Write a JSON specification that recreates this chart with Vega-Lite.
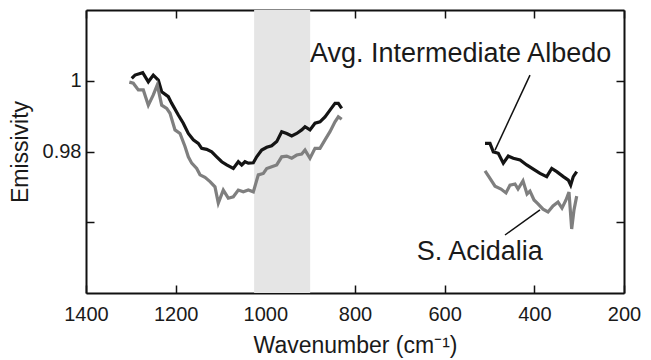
{
  "$schema": "https://vega.github.io/schema/vega-lite/v6.json",
  "width": 538,
  "height": 283,
  "autosize": {"type": "none"},
  "padding": {"left": 86, "top": 10, "right": 27, "bottom": 67},
  "background": "white",
  "config": {
    "view": {"stroke": null},
    "font": "Liberation Sans",
    "axis": {
      "grid": false,
      "domainColor": "#111111",
      "domainWidth": 2,
      "tickColor": "#111111",
      "tickWidth": 1.5,
      "tickSize": -8,
      "labelFont": "Liberation Sans",
      "labelFontSize": 20,
      "labelColor": "#1a1a1a",
      "titleFont": "Liberation Sans",
      "titleFontSize": 23,
      "titleFontWeight": "normal",
      "titleColor": "#1a1a1a"
    }
  },
  "datasets": {
    "spectra": [
      {"s": "avg", "seg": "a", "wn": 1298, "e": 1.0007},
      {"s": "avg", "seg": "a", "wn": 1290.7, "e": 1.0016},
      {"s": "avg", "seg": "a", "wn": 1273.5, "e": 1.0023},
      {"s": "avg", "seg": "a", "wn": 1261, "e": 0.9997},
      {"s": "avg", "seg": "a", "wn": 1249.9, "e": 1.0016},
      {"s": "avg", "seg": "a", "wn": 1238.7, "e": 1.0002},
      {"s": "avg", "seg": "a", "wn": 1231.2, "e": 0.9969},
      {"s": "avg", "seg": "a", "wn": 1216.4, "e": 0.9955},
      {"s": "avg", "seg": "a", "wn": 1208.8, "e": 0.9936},
      {"s": "avg", "seg": "a", "wn": 1194.1, "e": 0.9903},
      {"s": "avg", "seg": "a", "wn": 1183, "e": 0.988},
      {"s": "avg", "seg": "a", "wn": 1171.8, "e": 0.9851},
      {"s": "avg", "seg": "a", "wn": 1160.7, "e": 0.9833},
      {"s": "avg", "seg": "a", "wn": 1149.5, "e": 0.9823},
      {"s": "avg", "seg": "a", "wn": 1142, "e": 0.9809},
      {"s": "avg", "seg": "a", "wn": 1130.8, "e": 0.9806},
      {"s": "avg", "seg": "a", "wn": 1119.6, "e": 0.9799},
      {"s": "avg", "seg": "a", "wn": 1108.5, "e": 0.9785},
      {"s": "avg", "seg": "a", "wn": 1097.3, "e": 0.9771},
      {"s": "avg", "seg": "a", "wn": 1086.2, "e": 0.9762},
      {"s": "avg", "seg": "a", "wn": 1071.4, "e": 0.9752},
      {"s": "avg", "seg": "a", "wn": 1060.3, "e": 0.9771},
      {"s": "avg", "seg": "a", "wn": 1052.7, "e": 0.9762},
      {"s": "avg", "seg": "a", "wn": 1045.4, "e": 0.9771},
      {"s": "avg", "seg": "a", "wn": 1038, "e": 0.9767},
      {"s": "avg", "seg": "a", "wn": 1026.8, "e": 0.9768},
      {"s": "avg", "seg": "a", "wn": 1019.3, "e": 0.9785},
      {"s": "avg", "seg": "a", "wn": 1008.1, "e": 0.9804},
      {"s": "avg", "seg": "a", "wn": 996.9, "e": 0.9812},
      {"s": "avg", "seg": "a", "wn": 985.8, "e": 0.9816},
      {"s": "avg", "seg": "a", "wn": 974.6, "e": 0.9828},
      {"s": "avg", "seg": "a", "wn": 963.5, "e": 0.9856},
      {"s": "avg", "seg": "a", "wn": 952.3, "e": 0.9851},
      {"s": "avg", "seg": "a", "wn": 941.2, "e": 0.9844},
      {"s": "avg", "seg": "a", "wn": 930, "e": 0.9851},
      {"s": "avg", "seg": "a", "wn": 918.9, "e": 0.9861},
      {"s": "avg", "seg": "a", "wn": 911.5, "e": 0.987},
      {"s": "avg", "seg": "a", "wn": 900.4, "e": 0.9861},
      {"s": "avg", "seg": "a", "wn": 889.2, "e": 0.988},
      {"s": "avg", "seg": "a", "wn": 878.1, "e": 0.9884},
      {"s": "avg", "seg": "a", "wn": 866.9, "e": 0.9898},
      {"s": "avg", "seg": "a", "wn": 855.8, "e": 0.9917},
      {"s": "avg", "seg": "a", "wn": 844.6, "e": 0.9936},
      {"s": "avg", "seg": "a", "wn": 837.2, "e": 0.9936},
      {"s": "avg", "seg": "a", "wn": 829.7, "e": 0.9922},
      {"s": "avg", "seg": "b", "wn": 510, "e": 0.9823},
      {"s": "avg", "seg": "b", "wn": 498.9, "e": 0.9823},
      {"s": "avg", "seg": "b", "wn": 491.5, "e": 0.9799},
      {"s": "avg", "seg": "b", "wn": 480.4, "e": 0.9795},
      {"s": "avg", "seg": "b", "wn": 469.2, "e": 0.9767},
      {"s": "avg", "seg": "b", "wn": 458.1, "e": 0.9787},
      {"s": "avg", "seg": "b", "wn": 446.9, "e": 0.9781},
      {"s": "avg", "seg": "b", "wn": 431.8, "e": 0.9776},
      {"s": "avg", "seg": "b", "wn": 417, "e": 0.9762},
      {"s": "avg", "seg": "b", "wn": 402.3, "e": 0.975},
      {"s": "avg", "seg": "b", "wn": 387.4, "e": 0.9738},
      {"s": "avg", "seg": "b", "wn": 372.4, "e": 0.9729},
      {"s": "avg", "seg": "b", "wn": 361.2, "e": 0.9752},
      {"s": "avg", "seg": "b", "wn": 350.1, "e": 0.9743},
      {"s": "avg", "seg": "b", "wn": 335.4, "e": 0.9729},
      {"s": "avg", "seg": "b", "wn": 324.2, "e": 0.9719},
      {"s": "avg", "seg": "b", "wn": 318.9, "e": 0.9705},
      {"s": "avg", "seg": "b", "wn": 313.1, "e": 0.9729},
      {"s": "avg", "seg": "b", "wn": 305.5, "e": 0.9743},
      {"s": "aci", "seg": "c", "wn": 1303.4, "e": 0.9996},
      {"s": "aci", "seg": "c", "wn": 1294.5, "e": 0.9993},
      {"s": "aci", "seg": "c", "wn": 1283.3, "e": 0.9974},
      {"s": "aci", "seg": "c", "wn": 1272.2, "e": 0.9974},
      {"s": "aci", "seg": "c", "wn": 1261, "e": 0.9931},
      {"s": "aci", "seg": "c", "wn": 1249.9, "e": 0.996},
      {"s": "aci", "seg": "c", "wn": 1241, "e": 0.9988},
      {"s": "aci", "seg": "c", "wn": 1231.2, "e": 0.9931},
      {"s": "aci", "seg": "c", "wn": 1220, "e": 0.9922},
      {"s": "aci", "seg": "c", "wn": 1212.6, "e": 0.9908},
      {"s": "aci", "seg": "c", "wn": 1201.5, "e": 0.9861},
      {"s": "aci", "seg": "c", "wn": 1190.3, "e": 0.9851},
      {"s": "aci", "seg": "c", "wn": 1179.2, "e": 0.9814},
      {"s": "aci", "seg": "c", "wn": 1171.8, "e": 0.9785},
      {"s": "aci", "seg": "c", "wn": 1164.2, "e": 0.9767},
      {"s": "aci", "seg": "c", "wn": 1153.1, "e": 0.9752},
      {"s": "aci", "seg": "c", "wn": 1145.7, "e": 0.9734},
      {"s": "aci", "seg": "c", "wn": 1134.6, "e": 0.9727},
      {"s": "aci", "seg": "c", "wn": 1123.4, "e": 0.9715},
      {"s": "aci", "seg": "c", "wn": 1112.3, "e": 0.97},
      {"s": "aci", "seg": "c", "wn": 1104.9, "e": 0.9654},
      {"s": "aci", "seg": "c", "wn": 1093.8, "e": 0.9691},
      {"s": "aci", "seg": "c", "wn": 1082.6, "e": 0.9668},
      {"s": "aci", "seg": "c", "wn": 1071.4, "e": 0.9672},
      {"s": "aci", "seg": "c", "wn": 1060.3, "e": 0.9691},
      {"s": "aci", "seg": "c", "wn": 1049.1, "e": 0.9686},
      {"s": "aci", "seg": "c", "wn": 1038, "e": 0.9691},
      {"s": "aci", "seg": "c", "wn": 1026.8, "e": 0.9686},
      {"s": "aci", "seg": "c", "wn": 1015.7, "e": 0.9734},
      {"s": "aci", "seg": "c", "wn": 1004.5, "e": 0.9738},
      {"s": "aci", "seg": "c", "wn": 996.9, "e": 0.9752},
      {"s": "aci", "seg": "c", "wn": 985.8, "e": 0.9757},
      {"s": "aci", "seg": "c", "wn": 974.6, "e": 0.9762},
      {"s": "aci", "seg": "c", "wn": 963.5, "e": 0.9785},
      {"s": "aci", "seg": "c", "wn": 952.3, "e": 0.9787},
      {"s": "aci", "seg": "c", "wn": 941.2, "e": 0.9781},
      {"s": "aci", "seg": "c", "wn": 930, "e": 0.979},
      {"s": "aci", "seg": "c", "wn": 918.9, "e": 0.9793},
      {"s": "aci", "seg": "c", "wn": 911.5, "e": 0.9804},
      {"s": "aci", "seg": "c", "wn": 900.4, "e": 0.9781},
      {"s": "aci", "seg": "c", "wn": 889.2, "e": 0.9809},
      {"s": "aci", "seg": "c", "wn": 878.1, "e": 0.9809},
      {"s": "aci", "seg": "c", "wn": 866.9, "e": 0.9833},
      {"s": "aci", "seg": "c", "wn": 855.8, "e": 0.9856},
      {"s": "aci", "seg": "c", "wn": 844.6, "e": 0.9884},
      {"s": "aci", "seg": "c", "wn": 837.2, "e": 0.9898},
      {"s": "aci", "seg": "c", "wn": 829.7, "e": 0.9891},
      {"s": "aci", "seg": "d", "wn": 510, "e": 0.9745},
      {"s": "aci", "seg": "d", "wn": 501.1, "e": 0.9728},
      {"s": "aci", "seg": "d", "wn": 487.7, "e": 0.9702},
      {"s": "aci", "seg": "d", "wn": 474.3, "e": 0.9694},
      {"s": "aci", "seg": "d", "wn": 463.2, "e": 0.9683},
      {"s": "aci", "seg": "d", "wn": 454.3, "e": 0.9705},
      {"s": "aci", "seg": "d", "wn": 443.1, "e": 0.9708},
      {"s": "aci", "seg": "d", "wn": 436.4, "e": 0.9694},
      {"s": "aci", "seg": "d", "wn": 425.3, "e": 0.9717},
      {"s": "aci", "seg": "d", "wn": 416.3, "e": 0.968},
      {"s": "aci", "seg": "d", "wn": 409.7, "e": 0.9688},
      {"s": "aci", "seg": "d", "wn": 400.7, "e": 0.9663},
      {"s": "aci", "seg": "d", "wn": 391.8, "e": 0.9652},
      {"s": "aci", "seg": "d", "wn": 380.6, "e": 0.9637},
      {"s": "aci", "seg": "d", "wn": 369.5, "e": 0.9629},
      {"s": "aci", "seg": "d", "wn": 358.4, "e": 0.9646},
      {"s": "aci", "seg": "d", "wn": 347.2, "e": 0.9657},
      {"s": "aci", "seg": "d", "wn": 338.3, "e": 0.964},
      {"s": "aci", "seg": "d", "wn": 329.4, "e": 0.9663},
      {"s": "aci", "seg": "d", "wn": 322.7, "e": 0.9685},
      {"s": "aci", "seg": "d", "wn": 316.7, "e": 0.9581},
      {"s": "aci", "seg": "d", "wn": 311.5, "e": 0.9635},
      {"s": "aci", "seg": "d", "wn": 305.5, "e": 0.9674}
    ],
    "band": [{"from": 1025, "to": 900}],
    "leaders": [
      {"x1": 409.7, "y1": 1.0016, "x2": 487.7, "y2": 0.9804},
      {"x1": 387.4, "y1": 0.9635, "x2": 465.4, "y2": 0.9564}
    ],
    "labels": [
      {"text": "Avg. Intermediate Albedo", "wn": 900.4, "e": 1.0053},
      {"text": "S. Acidalia", "wn": 662.4, "e": 0.9493}
    ]
  },
  "resolve": {"axis": {"x": "independent", "y": "independent"}},
  "layer": [
    {
      "data": {"name": "band"},
      "mark": {"type": "rect", "color": "#e5e5e5"},
      "encoding": {
        "x": {"field": "from", "type": "quantitative", "scale": {"domain": [1400, 200], "nice": false, "zero": false}, "axis": null},
        "x2": {"field": "to"}
      }
    },
    {
      "data": {"name": "spectra"},
      "mark": {"type": "line", "strokeWidth": 3.2, "strokeJoin": "miter"},
      "encoding": {
        "x": {
          "field": "wn", "type": "quantitative",
          "scale": {"domain": [1400, 200], "nice": false, "zero": false},
          "axis": {"orient": "bottom", "title": "Wavenumber (cm\u207b\u00b9)", "values": [1400, 1200, 1000, 800, 600, 400, 200], "format": "d", "labelPadding": 19, "titlePadding": 10, "labelFlush": false}
        },
        "y": {
          "field": "e", "type": "quantitative",
          "scale": {"domain": [0.94, 1.02], "nice": false, "zero": false},
          "axis": {"orient": "left", "title": "Emissivity", "values": [0.96, 0.98, 1], "format": ".2~f", "labelExpr": "datum.value < 0.97 ? '' : datum.label", "labelPadding": 13, "titlePadding": 10}
        },
        "color": {"field": "s", "type": "nominal", "scale": {"domain": ["avg", "aci"], "range": ["#141414", "#7f7f7f"]}, "legend": null},
        "detail": {"field": "seg"},
        "order": {"field": "wn", "type": "quantitative"}
      }
    },
    {
      "data": {"name": "leaders"},
      "mark": {"type": "rule", "color": "#111111", "strokeWidth": 1.5},
      "encoding": {
        "x": {"field": "x1", "type": "quantitative", "axis": {"orient": "top", "title": null, "labels": false, "values": [1400, 1200, 1000, 800, 600, 400, 200]}},
        "y": {"field": "y1", "type": "quantitative", "axis": {"orient": "right", "title": null, "labels": false, "values": [0.96, 0.98, 1]}},
        "x2": {"field": "x2"},
        "y2": {"field": "y2"}
      }
    },
    {
      "data": {"name": "labels"},
      "mark": {"type": "text", "align": "left", "baseline": "alphabetic", "fontSize": 27, "font": "Liberation Sans", "color": "#1a1a1a"},
      "encoding": {
        "x": {"field": "wn", "type": "quantitative", "axis": null},
        "y": {"field": "e", "type": "quantitative", "axis": null},
        "text": {"field": "text"}
      }
    }
  ]
}
